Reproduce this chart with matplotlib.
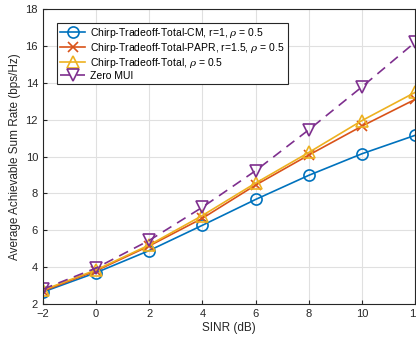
import numpy as np
import matplotlib
matplotlib.use("Agg")
import matplotlib.pyplot as plt

plt.rcParams['font.family'] = ['Liberation Sans', 'DejaVu Sans']
plt.rcParams['mathtext.fontset'] = 'dejavuserif'

# valori
sinr = [-2, 0, 2, 4, 6, 8, 10, 12]
rate_cm = [2.65, 3.7, 4.9, 6.27, 7.67, 8.98, 10.15, 11.15]
rate_papr = [2.7, 3.8, 5.15, 6.65, 8.45, 10.08, 11.65, 13.1]
rate_total = [2.75, 3.85, 5.2, 6.8, 8.56, 10.22, 11.95, 13.48]
rate_zero = [2.8, 3.95, 5.45, 7.25, 9.23, 11.45, 13.78, 16.2]

labels = ['Chirp-Tradeoff-Total-CM, r=1, $\\rho$ = 0.5',
          'Chirp-Tradeoff-Total-PAPR, r=1.5, $\\rho$ = 0.5',
          'Chirp-Tradeoff-Total, $\\rho$ = 0.5',
          'Zero MUI']

fig = plt.figure(figsize=(4.16, 3.43), dpi=100)
ax = fig.add_axes([0.103, 0.1137, 0.895, 0.86])

ax.plot(sinr, rate_cm, '-o', color='#0072BD', lw=1.2, ms=8, mfc='none', mew=1.2, label=labels[0])
ax.plot(sinr, rate_papr, '-x', color='#D95319', lw=1.2, ms=6.5, mew=1.2, label=labels[1])
ax.plot(sinr, rate_total, '-^', color='#EDB120', lw=1.2, ms=8, mfc='none', mew=1.2, label=labels[2])
ax.plot(sinr, rate_zero, '--v', color='#7E2F8E', lw=1.2, ms=8, mfc='none', mew=1.2,
        dashes=(6, 4), label=labels[3])

ax.set_xlim(-2, 12)
ax.set_ylim(2, 18)
ax.set_xticks(np.arange(-2, 13, 2))
ax.set_yticks(np.arange(2, 19, 2))
ax.grid(True, color='#e0e0e0', lw=0.8)
ax.set_axisbelow(True)
ax.tick_params(direction='in', labelsize=8, colors='#262626', length=3)
for s in ax.spines.values():
    s.set_color('#262626')
    s.set_linewidth(0.8)

ax.set_xlabel('SINR (dB)', fontsize=8.5, color='#262626', labelpad=2)
ax.set_ylabel('Average Achievable Sum Rate (bps/Hz)', fontsize=8.5, color='#262626', labelpad=3)

leg = ax.legend(loc='upper left', bbox_to_anchor=(0.038, 0.953), fontsize=7.5,
                handlelength=2.4, borderaxespad=0, fancybox=False, framealpha=1,
                edgecolor='#262626', borderpad=0.3, labelspacing=0.1, handletextpad=0.5)
leg.get_frame().set_linewidth(0.8)

fig.savefig('out.png', dpi=100)
